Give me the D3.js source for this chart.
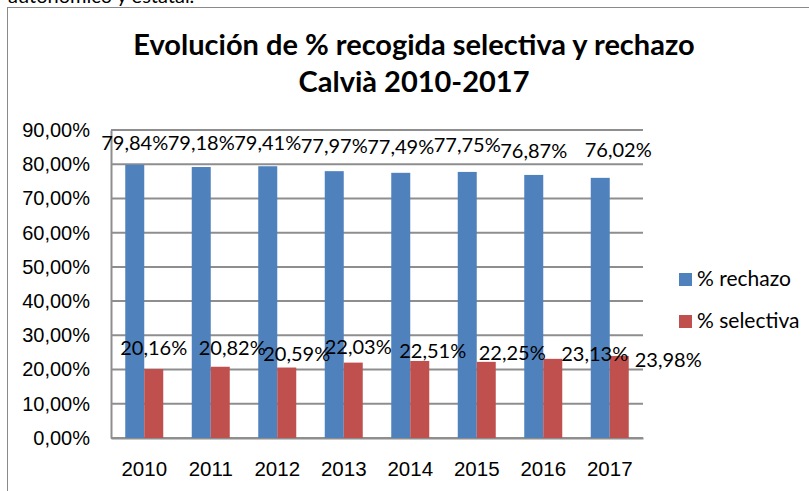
<!DOCTYPE html>
<html>
<head>
<meta charset="utf-8">
<script src="https://cdn.jsdelivr.net/npm/d3@7"></script>
<style>
  body { margin: 0; background: #fff; }
  svg { display: block; font-family: Lato, "Open Sans", sans-serif; }
</style>
</head>
<body>
<svg width="809" height="491"></svg>
<script>
// data (percent units)
var years = ["2010", "2011", "2012", "2013", "2014", "2015", "2016", "2017"];
var rechazo = [79.84, 79.18, 79.41, 77.97, 77.49, 77.75, 76.87, 76.02];
var selectiva = [20.16, 20.82, 20.59, 22.03, 22.51, 22.25, 23.13, 23.98];
var seriesNames = ["% rechazo", "% selectiva"];
var yTicks = [0, 10, 20, 30, 40, 50, 60, 70, 80, 90];

// the labels were dragged by hand in the original, [dx, dy] from outside end
var rechazoNudge = [[0,-1],[0,-3],[0,-2],[0,-4],[0,-5],[0,-6],[0,-3],[18,-7]];
var selectivaNudge = [[0,0],[12,2],[10,7],[5,5],[13,11],[26,12],[42,16],[49,25]];

var colors = {"% rechazo": "#4f81bd", "% selectiva": "#c0504d"};
var gridColor = "#8e8e8e";

var svg = d3.select("svg");
var fmt = v => v.toFixed(2).replace(".", ",") + "%";

// cut-off line of the surrounding document
svg.append("text")
    .attr("x", 8).attr("y", 3)
    .attr("font-size", 20)
    .text("autonómico y estatal.");

// chart frame (runs off the right and bottom of the picture)
svg.append("rect")
    .attr("x", 7.5).attr("y", 7.5)
    .attr("width", 900).attr("height", 600)
    .attr("fill", "none")
    .attr("stroke", "#8a8a8a");

// title
var title = svg.append("text")
    .attr("text-anchor", "middle")
    .attr("font-weight", "bold")
    .attr("font-size", 29);
title.append("tspan").attr("x", 414).attr("y", 55).text("Evolución de % recogida selectiva y rechazo");
title.append("tspan").attr("x", 414).attr("y", 92).text("Calvià 2010-2017");

var x = d3.scaleBand().domain(years).range([111, 643]);
var xs = d3.scaleBand().domain(seriesNames).range([0, x.bandwidth()]).paddingOuter(0.75);
var y = d3.scaleLinear().domain([0, 90]).range([438, 130]);

// gridlines
svg.append("g").selectAll("line")
    .data(yTicks)
    .join("line")
    .attr("x1", 111).attr("x2", 643)
    .attr("y1", d => y(d)).attr("y2", d => y(d))
    .attr("stroke", gridColor)
    .attr("stroke-width", 2);

// y axis
var yAxis = svg.append("g")
    .attr("transform", "translate(111,0)")
    .call(d3.axisLeft(y).tickValues(yTicks).tickFormat(fmt).tickSize(0).tickPadding(21));
yAxis.select(".domain").attr("stroke", gridColor).attr("stroke-width", 2);
yAxis.selectAll("text").attr("font-size", 20).attr("fill", "#000").attr("font-family", null);

// x axis
var xAxis = svg.append("g")
    .attr("transform", "translate(0," + y(0) + ")")
    .call(d3.axisBottom(x).tickSize(0).tickPadding(23));
xAxis.select(".domain").attr("stroke", gridColor).attr("stroke-width", 2);
xAxis.selectAll("text").attr("font-size", 20.5).attr("fill", "#000").attr("font-family", null);

// bars
var rows = years.map((yr, i) => ({year: yr, i: i, "% rechazo": rechazo[i], "% selectiva": selectiva[i]}));
var cells = rows.flatMap(d => seriesNames.map(s => ({year: d.year, s: s, v: d[s], i: d.i})));

svg.append("g").selectAll("rect")
    .data(cells)
    .join("rect")
    .attr("x", d => x(d.year) + xs(d.s))
    .attr("width", xs.bandwidth())
    .attr("y", d => y(d.v))
    .attr("height", d => y(0) - y(d.v))
    .attr("fill", d => colors[d.s]);

// data labels, on top of every bar
var nudges = {"% rechazo": rechazoNudge, "% selectiva": selectivaNudge};
svg.append("g").selectAll("text")
    .data(cells)
    .join("text")
    .attr("text-anchor", "middle")
    .attr("font-size", 20)
    .attr("x", d => x(d.year) + xs(d.s) + xs.bandwidth() / 2 + nudges[d.s][d.i][0])
    .attr("y", d => y(d.v) - 14 + nudges[d.s][d.i][1])
    .text(d => fmt(d.v));

// legend
var legend = svg.append("g").selectAll("g")
    .data(seriesNames)
    .join("g")
    .attr("transform", (d, i) => "translate(679," + (273 + i * 42) + ")");
legend.append("rect")
    .attr("width", 13).attr("height", 13)
    .attr("fill", d => colors[d]);
legend.append("text")
    .attr("x", 18).attr("y", 13)
    .attr("font-size", 21)
    .text(d => d);
</script>
</body>
</html>
